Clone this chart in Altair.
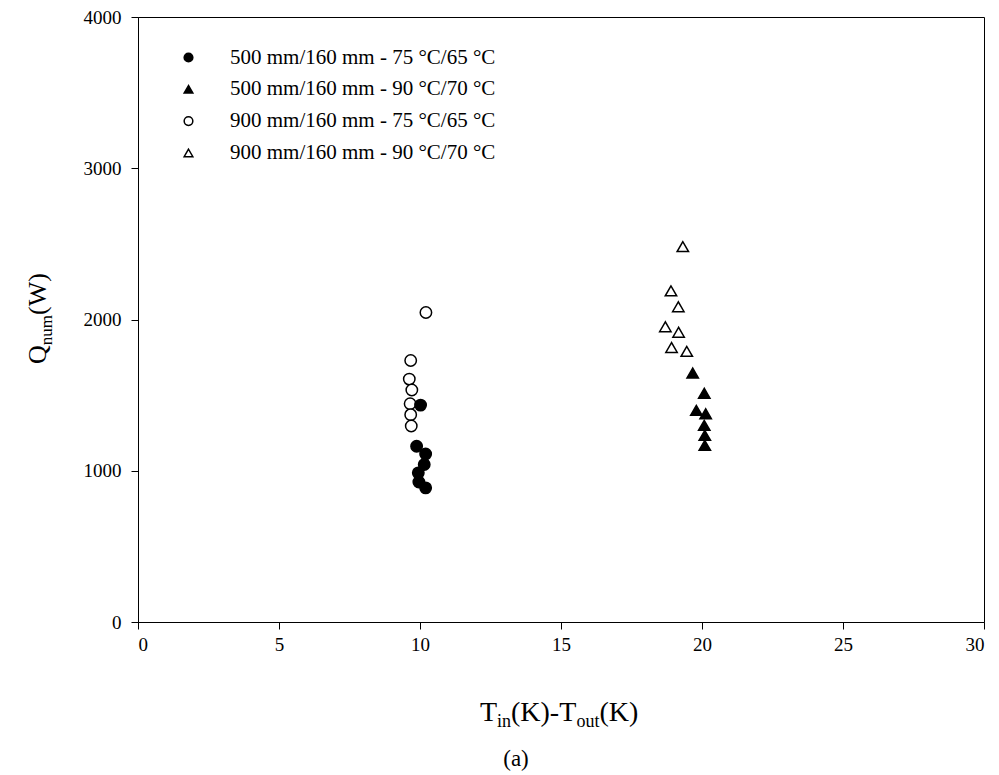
import altair as alt
import pandas as pd

series_names = [
    "500 mm/160 mm - 75 °C/65 °C",
    "500 mm/160 mm - 90 °C/70 °C",
    "900 mm/160 mm - 75 °C/65 °C",
    "900 mm/160 mm - 90 °C/70 °C",
]
shapes = ["circle", "triangle-up", "circle", "triangle-up"]
fills = ["black", "black", "white", "white"]
strokes = ["black", "black", "black", "black"]

# series values (x = Tin - Tout [K], y = Q_num [W])
s1_x = [10.02, 9.88, 10.20, 10.15, 9.94, 9.96, 10.20]
s1_y = [1434, 1162, 1111, 1041, 986, 926, 887]
s2_x = [19.67, 20.08, 19.80, 20.13, 20.08, 20.10, 20.10]
s2_y = [1646, 1512, 1399, 1377, 1300, 1234, 1168]
s3_x = [10.21, 9.67, 9.62, 9.71, 9.65, 9.67, 9.69]
s3_y = [2046, 1729, 1606, 1534, 1443, 1371, 1296]
s4_x = [19.32, 18.90, 19.16, 18.70, 19.17, 18.92, 19.46]
s4_y = [2482, 2189, 2084, 1952, 1916, 1815, 1789]

x_ticks = [0, 5, 10, 15, 20, 25, 30]
y_ticks = [0, 1000, 2000, 3000, 4000]

rows = []
# open markers first so filled ones draw on top
for name, xs, ys in [(series_names[2], s3_x, s3_y), (series_names[3], s4_x, s4_y),
                     (series_names[0], s1_x, s1_y), (series_names[1], s2_x, s2_y)]:
    for a, b in zip(xs, ys):
        rows.append({"series": name, "x": a, "y": b})
df = pd.DataFrame(rows)

FONT = "Liberation Serif"

legend = alt.Legend(
    orient="none", legendX=40, legendY=30, title=None,
    labelFont=FONT, labelFontSize=21, labelColor="black",
    symbolSize=75, symbolStrokeWidth=1.5,
    labelOffset=31, rowPadding=9.8, padding=0, labelLimit=400,
)

points = alt.Chart(df).mark_point(
    filled=False, strokeWidth=1.5, opacity=1, size=130
).encode(
    x=alt.X("x:Q", scale=alt.Scale(domain=[0, 30], nice=False, zero=False),
            axis=alt.Axis(values=x_ticks, title=None, labelPadding=6, format="d")),
    y=alt.Y("y:Q", scale=alt.Scale(domain=[0, 4000], nice=False),
            axis=alt.Axis(values=y_ticks, title=None, labelPadding=10, format="d")),
    shape=alt.Shape("series:N", scale=alt.Scale(domain=series_names, range=shapes), legend=legend),
    fill=alt.Fill("series:N", scale=alt.Scale(domain=series_names, range=fills), legend=legend),
    stroke=alt.Stroke("series:N", scale=alt.Scale(domain=series_names, range=strokes), legend=legend),
)


def label(t, x, y, size, angle=0, align="left"):
    return alt.Chart(pd.DataFrame({"t": [t]})).mark_text(
        font=FONT, fontSize=size, color="black", align=align,
        baseline="alphabetic", angle=angle,
    ).encode(text="t:N", x=alt.value(x), y=alt.value(y))


texts = [
    # y title Q_num(W), rotated
    label("Q", -92, 347, 26, 270),
    label("num", -86, 328.2, 17, 270),
    label("(W)", -92, 298.0, 26, 270),
    # x title T_in(K)-T_out(K)
    label("T", 342, 704, 28),
    label("in", 359, 710, 18),
    label("(K)-T", 373, 704, 28),
    label("out", 438.5, 710, 18),
    label("(K)", 461.5, 704, 28),
    # caption
    label("(a)", 378, 749, 23, 0, "center"),
]

chart = alt.layer(points, *texts).properties(
    width=846, height=605,
    background="white",
    autosize=alt.AutoSizeParams(type="none"),
    padding={"left": 130, "top": 9, "right": 7, "bottom": 153},
).configure_view(
    stroke="black", strokeWidth=1
).configure_axis(
    grid=False, domainColor="black", domainWidth=1, tickColor="black", tickSize=7,
    labelFont=FONT, labelFontSize=19, labelColor="black",
)

chart.save("out.html", embed_options={"renderer": "svg", "actions": False})
